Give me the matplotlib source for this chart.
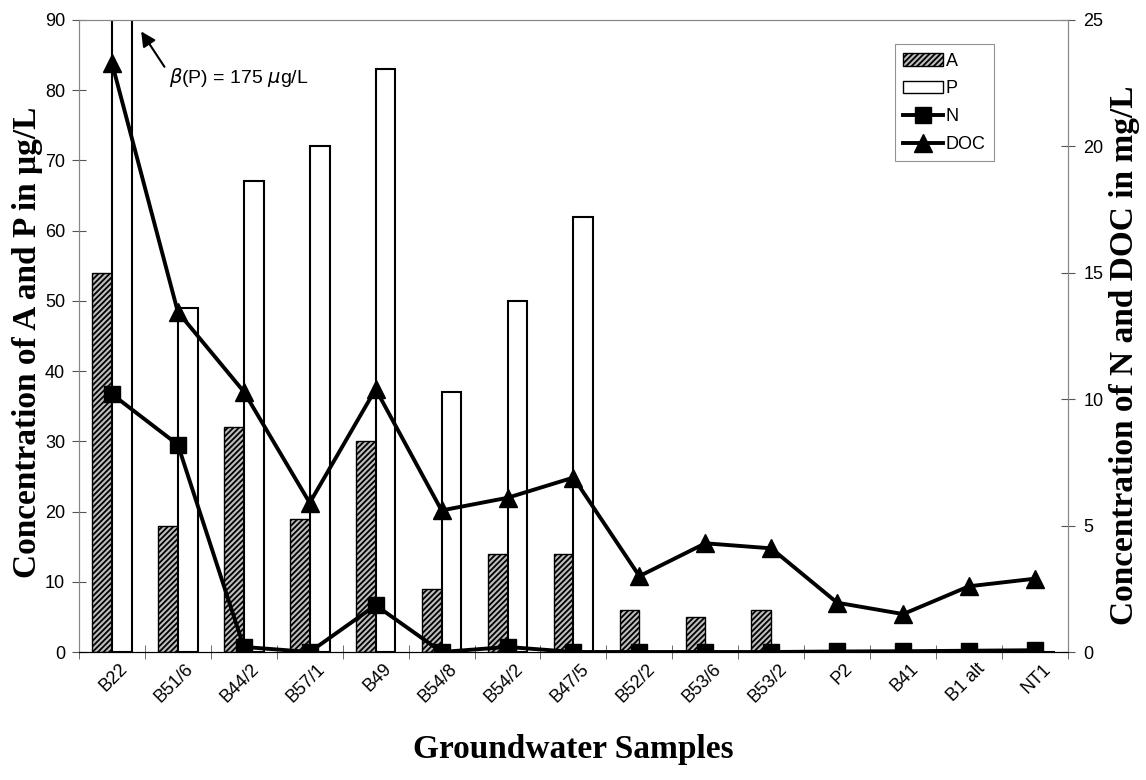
import numpy as np
import matplotlib.pyplot as plt
import matplotlib.transforms as mtransforms
from matplotlib.lines import Line2D
from matplotlib.patches import Patch

plt.rcParams['font.family'] = ['Liberation Sans', 'DejaVu Sans']
plt.rcParams['hatch.linewidth'] = 1.3

# data
samples = ['B22', 'B51/6', 'B44/2', 'B57/1', 'B49', 'B54/8', 'B54/2', 'B47/5',
           'B52/2', 'B53/6', 'B53/2', 'P2', 'B41', 'B1 alt', 'NT1']
A = [54, 18, 32, 19, 30, 9, 14, 14, 6, 5, 6, 0, 0, 0, 0]          # ug/L
P = [175, 49, 67, 72, 83, 37, 50, 62, 0, 0, 0, 0, 0, 0, 0]        # ug/L
N = [10.2, 8.2, 0.2, 0.0, 1.85, 0.0, 0.2, 0.0, 0.0, 0.0, 0.0,
     0.02, 0.03, 0.05, 0.07]                                        # mg/L
DOC = [23.3, 13.45, 10.3, 5.9, 10.4, 5.6, 6.1, 6.9, 3.0, 4.3, 4.1,
       1.95, 1.5, 2.6, 2.9]                                         # mg/L

x = np.arange(len(samples))
w = 0.3
hatch = '//////'

fig = plt.figure(figsize=(11.46, 7.8), dpi=100)
ax = fig.add_axes([0.0689, 0.1641, 0.863, 0.8103])
ax2 = ax.twinx()

ax.bar(x - w / 2, A, w, facecolor='#bdbdbd', edgecolor='black', hatch=hatch, lw=1.0)
ax.bar(x + w / 2, P, w, facecolor='white', edgecolor='black', lw=1.5)

ax2.plot(x, N, color='black', lw=2.8, marker='s', ms=11, zorder=3)
ax2.plot(x, DOC, color='black', lw=2.8, marker='^', ms=13, zorder=3)

ax.set_xlim(-0.5, len(samples) - 0.5)
ax.set_ylim(0, 90)
ax2.set_ylim(0, 25)
ax.set_yticks(range(0, 91, 10))
ax2.set_yticks(range(0, 26, 5))

ax.set_xticks(x)
ax.set_xticklabels(samples, rotation=45, ha='right', rotation_mode='anchor', fontsize=13)
ax.tick_params(axis='x', length=0, pad=6)
shift = mtransforms.ScaledTranslation(7 / 100, 0, fig.dpi_scale_trans)
for t in ax.get_xticklabels():
    t.set_transform(t.get_transform() + shift)
ax.set_xticks(np.arange(-0.5, len(samples), 1), minor=True)
ax.tick_params(axis='x', which='minor', length=10, direction='inout', color='#555555')
ax.tick_params(axis='y', direction='inout', length=10, color='#555555', labelsize=13, pad=5)
ax2.tick_params(axis='y', direction='inout', length=10, color='#555555', labelsize=13, pad=6)

for a in (ax, ax2):
    for s in ('left', 'right', 'top'):
        a.spines[s].set_color('#888888')
        a.spines[s].set_linewidth(0.8)
    a.spines['bottom'].set_color('black')

lab = dict(family='Liberation Serif', fontweight='bold', fontsize=24)
ax.set_ylabel('Concentration of A and P in \u03bcg/L', **lab)
ax2.set_ylabel('Concentration of N and DOC in mg/L', rotation=90, **lab)
ax.set_xlabel('Groundwater Samples', **lab)
ax.yaxis.set_label_coords(-0.052, 0.49)
ax2.yaxis.set_label_coords(1.057, 0.47)
ax.xaxis.set_label_coords(0.5, -0.155)
ax.xaxis.label.set_va('center')
ax.yaxis.label.set_va('center')
ax2.yaxis.label.set_va('center')

# note for the clipped P bar
ax.annotate('', xy=(0.42, 88.7), xytext=(0.82, 83.0),
            arrowprops=dict(arrowstyle='-|>', color='black', lw=1.5, mutation_scale=22))
ax.text(0.86, 81.8, r'$\beta$(P) = 175 $\mu$g/L', fontsize=14, va='center')

handles = [Patch(facecolor='#bdbdbd', edgecolor='black', hatch=hatch, label='A'),
           Patch(facecolor='white', edgecolor='black', label='P'),
           Line2D([], [], color='black', lw=2.8, marker='s', ms=11, label='N'),
           Line2D([], [], color='black', lw=2.8, marker='^', ms=13, label='DOC')]
leg = ax2.legend(handles=handles, loc='upper left', bbox_to_anchor=(0.781, 0.943),
                 bbox_transform=fig.transFigure, fontsize=13, frameon=True,
                 fancybox=False, handlelength=2.2, handletextpad=0.15,
                 borderpad=0.45, labelspacing=0.6, borderaxespad=0)
leg.get_frame().set_edgecolor('#777777')
leg.get_frame().set_linewidth(0.8)

fig.savefig('out.png', dpi=100)
